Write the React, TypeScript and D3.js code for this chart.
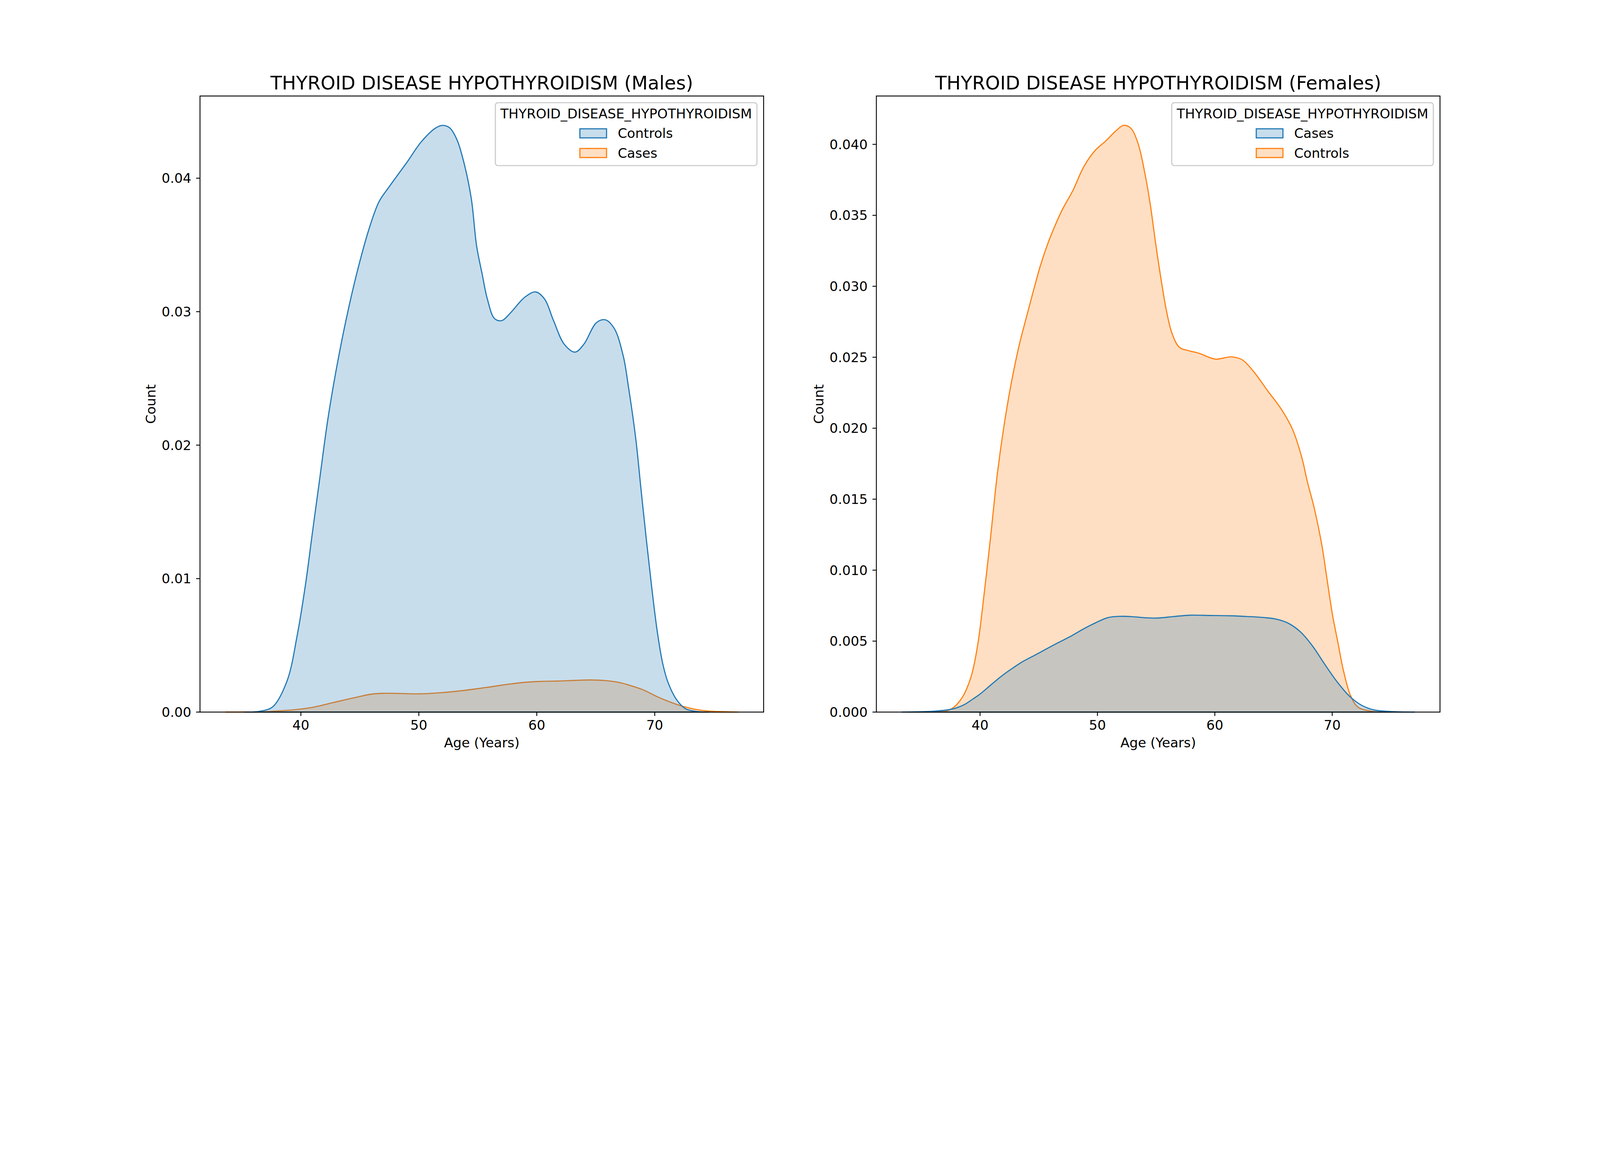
import React, { useEffect } from 'react';
import * as d3 from 'd3';

// KDE curves: [age, density]
const maleControls: [number, number][] = [
  [35.2, 0], [36.5, 0.00006], [37.62, 0.0004], [38.83, 0.00234], [39.7, 0.00581],
  [40.39, 0.00955], [40.99, 0.01352], [41.6, 0.0175], [42.29, 0.02196], [43.16, 0.02643],
  [44.02, 0.03016], [44.89, 0.03339], [45.75, 0.03612], [46.62, 0.03823], [47.48, 0.03935],
  [48.09, 0.0401], [49.0, 0.0412], [50.21, 0.04273], [51.42, 0.04376], [52.03, 0.04396],
  [52.63, 0.04376], [53.24, 0.04287], [53.84, 0.04111], [54.45, 0.03846], [54.9, 0.03492],
  [55.36, 0.03286], [55.81, 0.03095], [56.42, 0.02948], [57.03, 0.02933], [57.78, 0.02992],
  [58.99, 0.03109], [59.9, 0.03148], [60.66, 0.03095], [61.42, 0.02933], [62.33, 0.02756],
  [63.24, 0.02697], [63.99, 0.02756], [65.06, 0.02918], [65.81, 0.02939], [66.57, 0.02874],
  [67.33, 0.02668], [67.78, 0.02432], [68.39, 0.02049], [68.84, 0.01667], [69.3, 0.01284],
  [69.75, 0.0093], [70.21, 0.00607], [70.66, 0.00371], [71.12, 0.00224], [71.87, 0.00091],
  [72.63, 0.00024], [73.84, 0.00002], [74.6, 0],
];

const maleCases: [number, number][] = [
  [33.62, 0], [35.0, 0.000005], [36.25, 0.000013], [37.69, 0.000067], [39.5, 0.00018],
  [40.94, 0.000346], [42.74, 0.000713], [44.54, 0.001079], [45.99, 0.001346], [47.07, 0.001406],
  [48.51, 0.001393], [49.95, 0.001366], [51.76, 0.001446], [53.92, 0.001632], [55.72, 0.001845],
  [57.53, 0.002079], [58.97, 0.002232], [60.41, 0.002299], [61.85, 0.002325], [63.3, 0.002378],
  [64.56, 0.002405], [65.82, 0.002358], [66.9, 0.002232], [67.98, 0.001979], [69.07, 0.001646],
  [70.15, 0.001179], [71.23, 0.000779], [72.31, 0.000446], [73.39, 0.000213], [74.47, 0.00008],
  [75.92, 0.000027], [77.06, 0],
];

const femaleCases: [number, number][] = [
  [33.35, 0], [35.27, 0.000035], [36.3, 0.00008], [37.13, 0.000144], [37.89, 0.000269],
  [38.65, 0.00052], [39.41, 0.00093], [40.0, 0.00127], [40.55, 0.00165], [41.3, 0.00218],
  [42.06, 0.00268], [42.82, 0.00312], [43.58, 0.00353], [44.72, 0.00403], [45.47, 0.00437],
  [46.61, 0.00487], [47.75, 0.00535], [48.51, 0.00572], [49.54, 0.00617], [50.93, 0.006662],
  [51.97, 0.006748], [53.02, 0.006719], [54.06, 0.006647], [55.1, 0.006626], [56.5, 0.006734],
  [57.89, 0.006827], [59.63, 0.006806], [61.37, 0.006784], [62.76, 0.006734], [64.15, 0.006662],
  [65.2, 0.006554], [66.24, 0.006266], [67.29, 0.005654], [68.33, 0.004647], [69.38, 0.003352],
  [70.42, 0.002129], [71.47, 0.001122], [72.51, 0.000475], [73.56, 0.000151], [74.94, 0.000043],
  [77.0, 0],
];

const femaleControls: [number, number][] = [
  [34.0, 0], [35.5, 0.00002], [37.13, 0.00008], [37.59, 0.00024], [38.04, 0.00055],
  [38.5, 0.00105], [38.88, 0.00168], [39.26, 0.00256], [39.56, 0.00362], [39.86, 0.00506],
  [40.09, 0.0065], [40.87, 0.01213], [41.48, 0.01684], [42.09, 0.02044],
  [42.71, 0.0234], [43.32, 0.0258], [43.94, 0.0278], [44.55, 0.0297], [45.16, 0.03151],
  [45.78, 0.03303], [46.39, 0.03428], [47.0, 0.03539], [47.92, 0.03677], [48.84, 0.03843],
  [49.77, 0.03954], [50.69, 0.04023], [51.61, 0.04098], [52.22, 0.04134], [52.83, 0.04115],
  [53.45, 0.04009], [54.06, 0.03788], [54.52, 0.03566], [54.98, 0.0329], [55.44, 0.0304],
  [55.9, 0.02819], [56.36, 0.02667], [56.98, 0.0257], [57.74, 0.02547], [58.66, 0.02528],
  [60.04, 0.02487], [61.43, 0.02503], [62.35, 0.02481], [63.27, 0.02403], [64.49, 0.02265],
  [65.72, 0.02127], [66.64, 0.01988], [67.41, 0.01794], [67.87, 0.01628], [68.48, 0.01434],
  [69.1, 0.01185], [69.56, 0.00936], [70.02, 0.00687], [70.48, 0.00493], [70.94, 0.00299],
  [71.55, 0.00119], [72.18, 0.00036], [73.39, 0.00006], [75.0, 0],
];

const xTicks = [40, 50, 60, 70];
const maleYTicks = [0, 0.01, 0.02, 0.03, 0.04];
const femaleYTicks = [0, 0.005, 0.01, 0.015, 0.02, 0.025, 0.03, 0.035, 0.04];

const BLUE = '#1f77b4';
const ORANGE = '#ff7f0e';
const FONT = '"DejaVu Sans", sans-serif';
const FS = 50;
const TITLE_FS = 70.5;

const AX_TOP = 360;
const AX_BOTTOM = 2670;
const AX_W = 2113.6;

type Series = { label: string; color: string; data: [number, number][] };

const fade = (c: string) => {
  const k = d3.color(c)!;
  k.opacity = 0.25;
  return k.formatRgb();
};

function Panel({ title, x0, series, yTicks, yFormat }: {
  title: string; x0: number; series: Series[]; yTicks: number[]; yFormat: string;
}) {
  const ages = series.flatMap(s => s.data.map(d => d[0]));
  const [lo, hi] = d3.extent(ages) as [number, number];
  const pad = (hi - lo) * 0.05;
  const x = d3.scaleLinear().domain([lo - pad, hi + pad]).range([x0, x0 + AX_W]);
  const yMax = d3.max(series.flatMap(s => s.data.map(d => d[1])))! * 1.05;
  const y = d3.scaleLinear().domain([0, yMax]).range([AX_BOTTOM, AX_TOP]);

  const area = d3.area<[number, number]>()
    .x(d => x(d[0]))
    .y0(y(0))
    .y1(d => Math.min(y(0), y(d[1])))
    .curve(d3.curveCatmullRom.alpha(0.5));

  const fmt = d3.format(yFormat);
  const tickLen = 14.6;
  const labelW = d3.max(yTicks, t => fmt(t).length)! * 0.636 * FS - 0.318 * FS;
  const yLabelX = x0 - tickLen - 18 - labelW - 23;

  // legend
  const legW = 981;
  const legX = x0 + AX_W - 25 - legW;
  const legY = 385;
  const legH = 236;

  return (
    <g>
      {/* seaborn layers the last hue first */}
      {[...series].reverse().map(s => (
        <path key={s.label} d={area(s.data)!} fill={fade(s.color)} stroke={s.color}
          strokeWidth={4.2} strokeLinejoin="round" />
      ))}

      <rect x={x0} y={AX_TOP} width={AX_W} height={AX_BOTTOM - AX_TOP}
        fill="none" stroke="#000" strokeWidth={3.33} />

      {xTicks.map(t => (
        <g key={t}>
          <line x1={x(t)} x2={x(t)} y1={AX_BOTTOM} y2={AX_BOTTOM + tickLen} stroke="#000" strokeWidth={3.33} />
          <text x={x(t)} y={AX_BOTTOM + 67} textAnchor="middle" fontSize={FS} fontFamily={FONT}>{t}</text>
        </g>
      ))}
      {yTicks.map(t => (
        <g key={t}>
          <line x1={x0 - tickLen} x2={x0} y1={y(t)} y2={y(t)} stroke="#000" strokeWidth={3.33} />
          <text x={x0 - tickLen - 18} y={y(t) + 18} textAnchor="end" fontSize={FS} fontFamily={FONT}>{fmt(t)}</text>
        </g>
      ))}

      <text x={x0 + AX_W / 2} y={2802} textAnchor="middle" fontSize={FS} fontFamily={FONT}>Age (Years)</text>
      <text transform={`translate(${yLabelX},${(AX_TOP + AX_BOTTOM) / 2}) rotate(-90)`}
        textAnchor="middle" fontSize={FS} fontFamily={FONT}>Count</text>
      <text x={x0 + AX_W / 2} y={335} textAnchor="middle" fontSize={TITLE_FS} fontFamily={FONT}>{title}</text>

      <rect x={legX} y={legY} width={legW} height={legH} rx={10} ry={10}
        fill="rgba(255,255,255,0.8)" stroke="#cccccc" strokeWidth={4.2} />
      <text x={legX + legW / 2} y={444} textAnchor="middle" fontSize={FS} fontFamily={FONT}>
        THYROID_DISEASE_HYPOTHYROIDISM
      </text>
      {series.map((s, i) => (
        <g key={s.label}>
          <rect x={legX + 317} y={483 + i * 73.7} width={100} height={34}
            fill={fade(s.color)} stroke={s.color} strokeWidth={4.2} />
          <text x={legX + 459} y={517.6 + i * 73.7} fontSize={FS} fontFamily={FONT}>{s.label}</text>
        </g>
      ))}
    </g>
  );
}

export default function App() {
  useEffect(() => {
    document.body.style.margin = '0';
    document.body.style.overflow = 'hidden';
  }, []);

  return (
    <svg viewBox="0 0 6000 3000" preserveAspectRatio="xMidYMin meet"
      style={{ position: 'absolute', left: 0, top: 0, width: '100vw', height: '100vh', background: '#fff' }}>
      <rect width={6000} height={3000} fill="#fff" />
      <Panel
        title="THYROID DISEASE HYPOTHYROIDISM (Males)"
        x0={750}
        series={[
          { label: 'Controls', color: BLUE, data: maleControls },
          { label: 'Cases', color: ORANGE, data: maleCases },
        ]}
        yTicks={maleYTicks}
        yFormat=".2f"
      />
      <Panel
        title="THYROID DISEASE HYPOTHYROIDISM (Females)"
        x0={3286.4}
        series={[
          { label: 'Cases', color: BLUE, data: femaleCases },
          { label: 'Controls', color: ORANGE, data: femaleControls },
        ]}
        yTicks={femaleYTicks}
        yFormat=".3f"
      />
    </svg>
  );
}
